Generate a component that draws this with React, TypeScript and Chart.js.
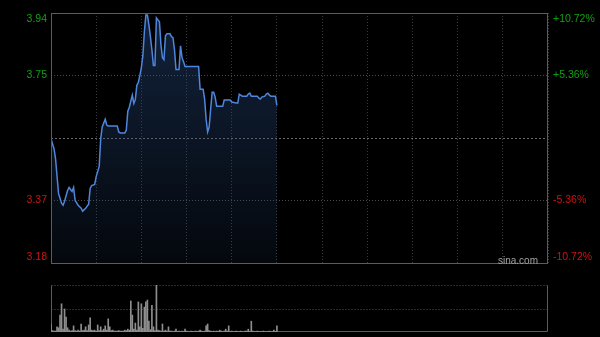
import React, { useEffect, useRef } from 'react';
import { Chart, registerables } from 'chart.js';

Chart.register(...registerables);

// ---- data ----
const prevClose = 3.5585;
const priceMin = 3.177;
const priceMax = 3.94;
const totalMinutes = 330;

const priceMinutes = [
  0, 2, 3, 5, 7, 8, 9, 11, 12, 13, 14, 15, 16, 18, 20, 21, 23, 25, 26, 27, 29, 30, 32, 33, 34, 36, 37, 38,
  44, 45, 46, 49, 50, 51, 52, 54, 55, 56, 57, 58, 59, 60, 61, 62, 63, 64, 65, 66, 67, 68, 69, 70, 71, 72,
  73, 74, 75, 76, 77, 79, 80, 81, 82, 83, 85, 86, 87, 88, 89, 98, 99, 101, 102, 103, 104, 105, 106, 107,
  108, 109, 110, 114, 115, 119, 120, 123, 124, 125, 126, 127, 130, 131, 132, 133, 137, 138, 139, 140, 142,
  143, 144, 145, 146, 149, 150,
];
const prices = [
  3.557, 3.527, 3.497, 3.391, 3.361, 3.355, 3.367, 3.400, 3.409, 3.403, 3.397, 3.409, 3.370, 3.355, 3.346,
  3.337, 3.346, 3.358, 3.406, 3.415, 3.418, 3.442, 3.473, 3.557, 3.593, 3.617, 3.599, 3.596,
  3.596, 3.578, 3.575, 3.575, 3.584, 3.641, 3.653, 3.690, 3.665, 3.677, 3.720, 3.729, 3.750, 3.774, 3.810,
  3.883, 3.934, 3.934, 3.904, 3.868, 3.828, 3.780, 3.780, 3.925, 3.919, 3.913,
  3.843, 3.804, 3.798, 3.871, 3.877, 3.877, 3.868, 3.865, 3.828, 3.768, 3.768, 3.840, 3.804, 3.792, 3.777,
  3.777, 3.708, 3.708, 3.678, 3.617, 3.578, 3.593, 3.647, 3.699,
  3.699, 3.684, 3.656, 3.656, 3.675, 3.675, 3.669, 3.666, 3.666, 3.693, 3.690, 3.687, 3.687, 3.693, 3.696,
  3.687, 3.687, 3.681, 3.678, 3.684, 3.687,
  3.693, 3.696, 3.690, 3.687, 3.687, 3.659,
];

// volume per minute (relative units, max = 100)
const volumes = [
  17, 3, 2, 2, 11, 9, 36, 60, 6, 49, 32, 9, 4, 2, 3, 13, 3, 2, 4, 2,
  17, 3, 4, 11, 3, 15, 30, 4, 3, 4, 2, 15, 3, 11, 3, 6, 13, 4, 28, 11,
  3, 4, 2, 2, 2, 3, 2, 2, 2, 4, 3, 6, 4, 66, 36, 6, 19, 4, 64, 11,
  60, 8, 53, 64, 68, 23, 5, 57, 11, 3, 100, 4, 3, 2, 17, 2, 4, 2, 11, 2,
  2, 1, 2, 6, 1, 2, 1, 2, 1, 6, 2, 1, 1, 2, 1, 1, 2, 1, 2, 4,
  2, 1, 2, 13, 17, 3, 2, 1, 2, 1, 2, 1, 4, 2, 1, 2, 6, 2, 13, 1,
  2, 1, 1, 2, 1, 1, 2, 1, 1, 2, 2, 6, 1, 23, 2, 1, 1, 2, 1, 1,
  1, 2, 1, 1, 1, 2, 1, 1, 4, 1, 13,
];
const volumeMax = 100;

const leftTickValues = [3.94, 3.75, 3.37, 3.18];
const leftTickLabels = ['3.94', '3.75', '3.37', '3.18'];
const rightTickLabels = ['+10.72%', '+5.36%', '-5.36%', '-10.72%'];
const gridLineValues = [3.75, 3.37];

// ---- styles ----
const FAMILY = 'Arial, "Liberation Sans", sans-serif';
const FONT = { family: FAMILY, size: 10.5 };
const GREEN = '#12a012';
const RED = '#d01212';
const FRAME = '#5c5c5c';
const LINE = '#4f86dc';

export default function App() {
  const priceRef = useRef<HTMLCanvasElement>(null);
  const volRef = useRef<HTMLCanvasElement>(null);

  useEffect(() => {
    const fixWidth = (w: number) => (scale: any) => {
      scale.width = w;
    };
    const edgeTicks = (scale: any) => {
      const unit = (priceMax - priceMin) / (scale.height || 253);
      const shift = 6 * unit;
      const n = leftTickValues.length;
      scale.ticks = leftTickValues.map((v, i) => ({
        value: i === 0 ? v - shift : i === n - 1 ? v + shift : v,
      }));
    };

    const mainFrame = {
      id: 'mainFrame',
      afterDraw(chart: any) {
        const { ctx, chartArea: a } = chart;
        ctx.save();
        ctx.strokeStyle = FRAME;
        ctx.lineWidth = 1;
        ctx.setLineDash([]);
        ctx.strokeRect(Math.round(a.left) + 0.5, Math.round(a.top) + 0.5, Math.round(a.right - a.left) - 1, Math.round(a.bottom - a.top) - 1);
        ctx.restore();
      },
    };

    const volFrame = {
      id: 'volFrame',
      beforeDatasetsDraw(chart: any) {
        const { ctx, chartArea: a, scales } = chart;
        const l = Math.round(a.left) + 0.5;
        const r = Math.round(a.right) - 0.5;
        const t = Math.round(a.top) + 0.5;
        const b = Math.round(a.bottom) - 0.5;
        const mid = Math.round(scales.y.getPixelForValue(volumeMax / 2)) + 0.5;
        ctx.save();
        ctx.lineWidth = 1;
        ctx.strokeStyle = '#555555';
        ctx.setLineDash([1, 2]);
        ctx.beginPath();
        ctx.moveTo(l, t);
        ctx.lineTo(r, t);
        ctx.moveTo(l, mid);
        ctx.lineTo(r, mid);
        ctx.stroke();
        ctx.setLineDash([]);
        ctx.strokeStyle = FRAME;
        ctx.beginPath();
        ctx.moveTo(l, t);
        ctx.lineTo(l, b);
        ctx.lineTo(r, b);
        ctx.lineTo(r, t);
        ctx.stroke();
        ctx.restore();
      },
    };

    const main = new Chart(priceRef.current as HTMLCanvasElement, {
      type: 'line',
      data: {
        datasets: [
          {
            data: priceMinutes.map((m, i) => ({ x: m, y: prices[i] })),
            borderColor: LINE,
            borderWidth: 1.5,
            pointRadius: 0,
            tension: 0,
            fill: 'start',
            backgroundColor: (ctx: any) => {
              const { chart } = ctx;
              const area = chart.chartArea;
              if (!area) return 'rgba(40,75,130,0.3)';
              const g = chart.ctx.createLinearGradient(0, area.top, 0, area.bottom);
              g.addColorStop(0, 'rgba(40,75,130,0.45)');
              g.addColorStop(1, 'rgba(40,75,130,0.10)');
              return g;
            },
          } as any,
        ],
      },
      options: {
        animation: false,
        responsive: false,
        events: [],
        layout: { padding: { top: 13, bottom: 8, left: 0, right: 0 } },
        plugins: { legend: { display: false }, tooltip: { enabled: false } },
        scales: {
          x: {
            type: 'linear',
            min: 0,
            max: totalMinutes,
            ticks: { display: false, stepSize: 30 },
            grid: { color: '#3a3a3a', drawTicks: false },
            border: { display: false, dash: [1, 2] },
          },
          y: {
            position: 'left',
            min: priceMin,
            max: priceMax,
            afterBuildTicks: edgeTicks,
            afterFit: fixWidth(51),
            ticks: {
              autoSkip: false,
              padding: 4,
              font: FONT,
              color: (c: any) => (c.index < 2 ? GREEN : RED),
              callback: (_v: any, i: number) => leftTickLabels[i],
            },
            grid: { display: false, drawTicks: false },
            border: { display: false },
          },
          y2: {
            position: 'right',
            min: priceMin,
            max: priceMax,
            afterBuildTicks: edgeTicks,
            afterFit: fixWidth(52),
            ticks: {
              autoSkip: false,
              padding: 5,
              font: FONT,
              color: (c: any) => (c.index < 2 ? GREEN : RED),
              callback: (_v: any, i: number) => rightTickLabels[i],
            },
            grid: { display: false, drawTicks: false },
            border: { display: false },
          },
          yg: {
            position: 'left',
            min: priceMin,
            max: priceMax,
            afterBuildTicks: (s: any) => {
              s.ticks = gridLineValues.map((v) => ({ value: v }));
            },
            afterFit: fixWidth(0),
            ticks: { display: false },
            grid: { color: '#4a4a4a', drawTicks: false },
            border: { display: false, dash: [1, 2] },
          },
          yp: {
            position: 'left',
            min: priceMin,
            max: priceMax,
            afterBuildTicks: (s: any) => {
              s.ticks = [{ value: prevClose }];
            },
            afterFit: fixWidth(0),
            ticks: { display: false },
            grid: { color: '#6a6a6a', drawTicks: false },
            border: { display: false, dash: [2, 2] },
          },
        } as any,
      },
      plugins: [mainFrame],
    });

    const vol = new Chart(volRef.current as HTMLCanvasElement, {
      type: 'bar',
      data: {
        datasets: [
          {
            data: volumes.map((v, i) => ({ x: i, y: v })),
            backgroundColor: '#8e8e8e',
            barThickness: 1,
            borderWidth: 0,
          } as any,
        ],
      },
      options: {
        animation: false,
        responsive: false,
        events: [],
        layout: { padding: { top: 5, bottom: 5, left: 0, right: 0 } },
        plugins: { legend: { display: false }, tooltip: { enabled: false } },
        scales: {
          x: {
            type: 'linear',
            min: 0,
            max: totalMinutes,
            offset: false,
            display: true,
            ticks: { display: false },
            grid: { display: false, drawTicks: false },
            border: { display: false },
          },
          y: {
            position: 'left',
            min: 0,
            max: volumeMax,
            afterFit: fixWidth(51),
            ticks: { display: false },
            grid: { display: false, drawTicks: false },
            border: { display: false },
          },
          y2: {
            position: 'right',
            min: 0,
            max: volumeMax,
            afterFit: fixWidth(52),
            ticks: { display: false },
            grid: { display: false, drawTicks: false },
            border: { display: false },
          },
        } as any,
      },
      plugins: [volFrame],
    });

    return () => {
      main.destroy();
      vol.destroy();
    };
  }, []);

  return (
    <div
      style={{
        position: 'fixed',
        left: 0,
        top: 0,
        width: 600,
        height: 337,
        background: '#000',
        overflow: 'hidden',
      }}
    >
      <canvas
        ref={priceRef}
        width={600}
        height={275}
        style={{ position: 'absolute', left: 0, top: 0, width: 600, height: 275 }}
      />
      <canvas
        ref={volRef}
        width={600}
        height={57}
        style={{ position: 'absolute', left: 0, top: 280, width: 600, height: 57 }}
      />
      <div
        style={{
          position: 'absolute',
          left: 498,
          top: 254,
          fontFamily: FAMILY,
          fontSize: 10,
          color: '#a0a0a0',
          lineHeight: '14px',
          whiteSpace: 'nowrap',
        }}
      >
        sina.com
      </div>
    </div>
  );
}
